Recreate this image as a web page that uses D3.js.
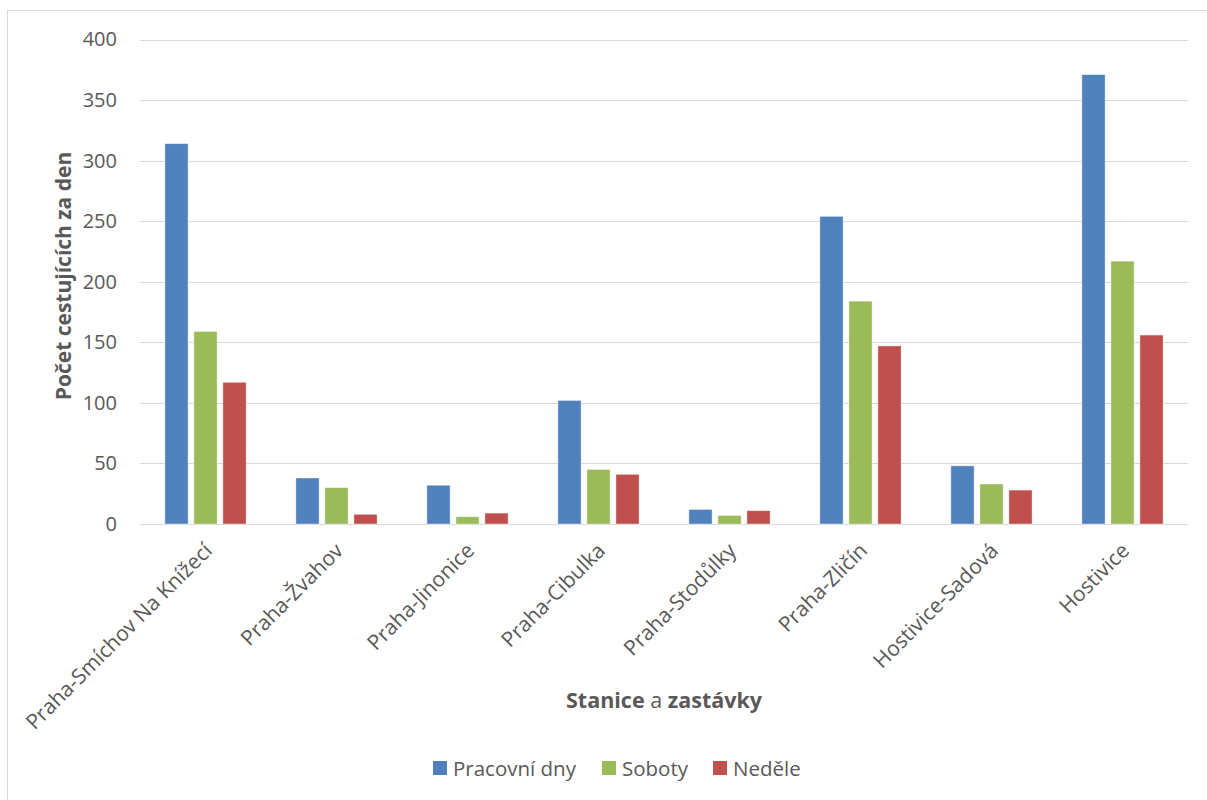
<!DOCTYPE html>
<html><head><meta charset="utf-8">
<script src="https://cdn.jsdelivr.net/npm/d3@7"></script>
<style>
html,body{margin:0;padding:0;background:#fff;}
svg{display:block;font-family:"Open Sans",sans-serif;}
</style></head>
<body>
<svg id="chart" width="1207" height="800"></svg>
<script>
const categories = ["Praha-Smíchov Na Knížecí","Praha-Žvahov","Praha-Jinonice","Praha-Cibulka","Praha-Stodůlky","Praha-Zličín","Hostivice-Sadová","Hostivice"];
const seriesNames = ["Pracovní dny","Soboty","Neděle"];
const pracovniDny = [314, 38, 32, 102, 12, 254, 48, 371];
const soboty      = [159, 30, 6, 45, 7, 184, 33, 217];
const nedele      = [117, 8, 9, 41, 11, 147, 28, 156];
const yTicks = [0,50,100,150,200,250,300,350,400];
const colors = ["#4F81BD","#9BBB59","#C0504D"];

const seriesValues = [pracovniDny, soboty, nedele];
const svg = d3.select("#chart");
const m = {left:140, right:1188, top:39.5, bottom:524};

// chart border (left & top visible)
svg.append("rect").attr("x",7.5).attr("y",10.5).attr("width",1250).attr("height",900)
  .attr("fill","none").attr("stroke","#d9d9d9").attr("stroke-width",1);

const y = d3.scaleLinear().domain([0,400]).range([m.bottom,m.top]);
const x0 = d3.scaleBand().domain(categories).range([m.left,m.right]).paddingInner(0.38).paddingOuter(0.19);
const x1 = d3.scaleBand().domain(seriesNames).range([0,x0.bandwidth()]).paddingInner(0.2);

// gridlines
svg.append("g").selectAll("line").data(yTicks).join("line")
  .attr("x1",m.left).attr("x2",m.right)
  .attr("y1",d=>Math.round(y(d))+0.5).attr("y2",d=>Math.round(y(d))+0.5)
  .attr("stroke","#d9d9d9").attr("stroke-width",1);

// y axis labels
const yAxis = d3.axisLeft(y).tickValues(yTicks).tickSize(0).tickPadding(0);
const gy = svg.append("g").attr("transform",`translate(117,0)`).call(yAxis);
gy.select(".domain").remove();
gy.selectAll("text").attr("fill","#595959").style("font-size","20px").style("font-family","'Open Sans',sans-serif");

// bars
const groups = svg.append("g").selectAll("g").data(categories).join("g")
  .attr("transform",d=>`translate(${x0(d)},0)`);
groups.selectAll("rect").data((d,i)=>seriesNames.map((s,j)=>({s, v:seriesValues[j][i], j})))
  .join("rect")
  .attr("x",d=>x1(d.s)).attr("width",x1.bandwidth())
  .attr("y",d=>y(d.v)).attr("height",d=>y(0)-y(d.v))
  .attr("fill",d=>colors[d.j]).attr("stroke","#ffffff").attr("stroke-opacity",0.5).attr("stroke-width",0.8);

// x labels
const xAxis = d3.axisBottom(x0).tickSize(0).tickPadding(0);
const gx = svg.append("g").attr("transform",`translate(0,${m.bottom})`).call(xAxis);
gx.select(".domain").remove();
gx.selectAll("text")
  .attr("fill","#595959").style("font-size","21px").style("font-family","'Open Sans',sans-serif")
  .attr("text-anchor","end").attr("dy",null).attr("y",null)
  .attr("transform","translate(8,28) rotate(-45)");

// y title
svg.append("text").attr("transform","translate(71,276) rotate(-90)")
  .attr("text-anchor","middle").attr("fill","#595959")
  .style("font-size","21px").style("font-weight","bold")
  .text("Počet cestujících za den");

// x title
const xt = svg.append("text").attr("x",664).attr("y",708).attr("text-anchor","middle")
  .attr("fill","#595959").style("font-size","21.5px");
xt.append("tspan").style("font-weight","bold").text("Stanice");
xt.append("tspan").text(" a ");
xt.append("tspan").style("font-weight","bold").text("zastávky");

// legend
const legendX = [433, 602, 713];
const lg = svg.append("g").selectAll("g").data(seriesNames).join("g")
  .attr("transform",(d,i)=>`translate(${legendX[i]},761)`);
lg.append("rect").attr("width",14).attr("height",14).attr("fill",(d,i)=>colors[i]);
lg.append("text").attr("x",20).attr("y",14.5).attr("fill","#595959").style("font-size","20.5px").text(d=>d);
</script>
</body></html>
